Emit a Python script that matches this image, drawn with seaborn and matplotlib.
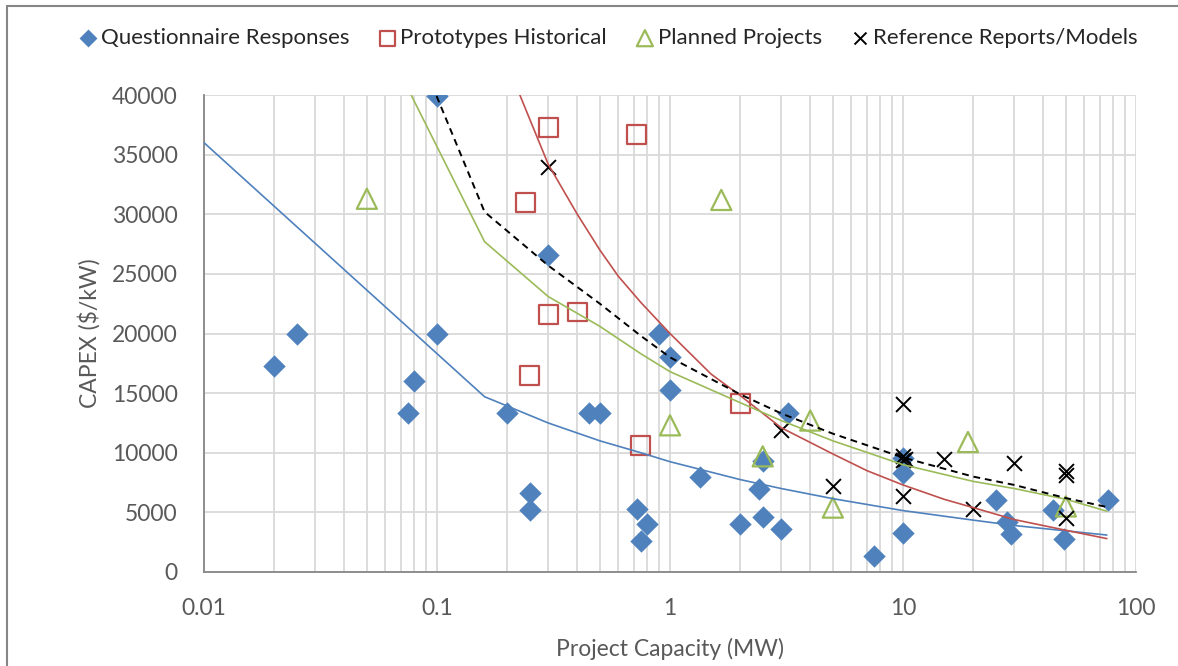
import matplotlib
matplotlib.use("Agg")
import matplotlib.pyplot as plt
from matplotlib.lines import Line2D
from matplotlib.ticker import LogLocator, FixedLocator, NullFormatter
import seaborn as sns
import pandas as pd

# ---- survey / literature data: capacity (MW) vs CAPEX ($/kW) ----
questionnaire_mw = [0.02, 0.025, 0.075, 0.08, 0.1, 0.1, 0.2, 0.25, 0.25, 0.3,
                    0.45, 0.5, 0.72, 0.75, 0.8, 0.9, 1.0, 1.0, 1.35, 2.0,
                    2.4, 2.5, 2.5, 3.0, 3.2, 7.5, 10, 10, 10, 25,
                    28, 29, 44, 49, 76]
questionnaire_capex = [17300, 20000, 13300, 16000, 39900, 20000, 13300, 6600, 5200, 26600,
                       13300, 13300, 5300, 2600, 4000, 20000, 18000, 15300, 8000, 4000,
                       7000, 9300, 4600, 3600, 13300, 1300, 9600, 8300, 3300, 6000,
                       4200, 3200, 5200, 2800, 6000]

prototypes_mw = [0.3, 0.72, 0.24, 0.3, 0.4, 0.25, 0.75, 2.0]
prototypes_capex = [37300, 36700, 31000, 21600, 21800, 16500, 10600, 14100]

planned_mw = [0.05, 1.66, 1.0, 2.5, 4.0, 5.0, 19, 50]
planned_capex = [31300, 31200, 12300, 9700, 12700, 5400, 10900, 5500]

reference_mw = [0.3, 3.0, 5.0, 10, 10, 10, 10.2, 10, 15, 20, 30, 50, 50, 50]
reference_capex = [34000, 11900, 7200, 14100, 9700, 9400, 9500, 6400, 9500, 5300, 9100, 8500, 8100, 4500]

# ---- trend curves ----
trend_mw = [0.01, 0.16, 0.3, 0.5, 0.75, 1, 2, 3, 5, 10, 20, 30, 50, 75]
trend_questionnaire = [36000, 14700, 12500, 11000, 10000, 9250, 7750, 7000, 6150, 5150, 4350, 3900, 3450, 3100]
trend_planned = [74700, 27700, 23100, 20600, 18300, 16800, 14200, 12700, 11000, 9000, 7600, 7000, 6100, 5100]
trend_reference = [87000, 30200, 25700, 22500, 19800, 18000, 14900, 13300, 11600, 9600, 8000, 7300, 6200, 5450]
trend_prototypes_mw = [0.16, 0.2, 0.3, 0.4, 0.5, 0.6, 0.75, 1, 1.5, 2, 3, 5, 7, 10, 15, 20, 30, 50, 75]
trend_prototypes = [49000, 42600, 34200, 30000, 27000, 24800, 22600, 20000, 16600, 14800, 12100,
                    9900, 8500, 7300, 6100, 5400, 4400, 3500, 2800]

labels = ["Questionnaire Responses", "Prototypes Historical",
          "Planned Projects", "Reference Reports/Models"]

BLUE = "#4F81BD"
RED = "#C0504D"
GREEN = "#9BBB59"
BLACK = "#000000"
GRID = "#D9D9D9"
AXIS = "#868686"
TEXT = "#595959"

sns.set_theme(style="white")
plt.rcParams["font.family"] = ["Lato", "DejaVu Sans"]

W, H = 1178, 666
fig = plt.figure(figsize=(W / 100, H / 100), dpi=100)
ax = fig.add_axes([204 / W, 1 - 572 / H, (1136 - 204) / W, (572 - 95) / H])

# scatter series
sns.scatterplot(x=questionnaire_mw, y=questionnaire_capex, marker="D", s=130,
                color=BLUE, edgecolor=BLUE, linewidth=0, ax=ax, label=labels[0], zorder=3)
sns.scatterplot(x=prototypes_mw, y=prototypes_capex, marker="s", s=185,
                color=RED, ax=ax, label=labels[1], zorder=3)
pc = ax.collections[-1]
pc.set_facecolor("none"); pc.set_edgecolor(RED); pc.set_linewidth(1.6)
sns.scatterplot(x=planned_mw, y=planned_capex, marker="^", s=210,
                color=GREEN, ax=ax, label=labels[2], zorder=3)
gc = ax.collections[-1]
gc.set_facecolor("none"); gc.set_edgecolor(GREEN); gc.set_linewidth(1.6)
sns.scatterplot(x=reference_mw, y=reference_capex, marker="x", s=115,
                color=BLACK, linewidth=1.4, ax=ax, label=labels[3], zorder=4)

# trend curves
trend_df = pd.DataFrame({"mw": trend_mw, "q": trend_questionnaire,
                         "pl": trend_planned, "ref": trend_reference})
sns.lineplot(data=trend_df, x="mw", y="q", color=BLUE, linewidth=1.2, ax=ax,
             legend=False, zorder=5, estimator=None, sort=False)
sns.lineplot(x=trend_prototypes_mw, y=trend_prototypes, color=RED, linewidth=1.2, ax=ax,
             legend=False, zorder=5, estimator=None, sort=False)
sns.lineplot(data=trend_df, x="mw", y="pl", color=GREEN, linewidth=1.2, ax=ax,
             legend=False, zorder=5, estimator=None, sort=False)
sns.lineplot(data=trend_df, x="mw", y="ref", color=BLACK, linewidth=1.4, ax=ax,
             legend=False, zorder=5, estimator=None, sort=False, linestyle=(0, (3.5, 2.5)))

# axes
ax.set_xscale("log")
ax.set_xlim(0.01, 100)
ax.set_ylim(0, 40000)
ax.set_yticks(range(0, 40001, 5000))
ax.xaxis.set_major_locator(FixedLocator([0.01, 0.1, 1, 10, 100]))
ax.set_xticklabels(["0.01", "0.1", "1", "10", "100"])
ax.xaxis.set_minor_locator(LogLocator(base=10, subs=range(2, 10)))
ax.xaxis.set_minor_formatter(NullFormatter())

ax.grid(True, which="major", axis="both", color=GRID, linewidth=1.3, zorder=0)
ax.grid(True, which="minor", axis="x", color=GRID, linewidth=1.3, zorder=0)
ax.set_axisbelow(True)

for side in ("top", "right"):
    ax.spines[side].set_visible(False)
for side in ("left", "bottom"):
    ax.spines[side].set_color(AXIS)
    ax.spines[side].set_linewidth(1.3)

ax.tick_params(axis="both", which="major", direction="out", length=7, width=1.2,
               color=AXIS, labelcolor=TEXT, labelsize=16.5, pad=12)
ax.tick_params(axis="x", which="minor", length=0)
ax.tick_params(axis="x", which="major", pad=12)

ax.set_xlabel("Project Capacity (MW)", fontsize=16.5, color=TEXT, labelpad=13)
ax.set_ylabel("CAPEX ($/kW)", fontsize=16.5, color=TEXT, labelpad=8)

# legend across the top
ax.get_legend().remove()
handles, hlabels = ax.get_legend_handles_labels()
fig.legend(handles, hlabels, loc="center", bbox_to_anchor=(0.5155, 1 - 38 / H),
           ncol=4, frameon=False, fontsize=16, handletextpad=0.1,
           columnspacing=1.2, markerscale=0.8, handlelength=1.0)

# outer chart frame
fig.add_artist(Line2D([7 / W, 1.0], [1 - 6 / H, 1 - 6 / H], transform=fig.transFigure,
                      color=AXIS, linewidth=1.5))
fig.add_artist(Line2D([7 / W, 7 / W], [0.0, 1 - 6 / H], transform=fig.transFigure,
                      color=AXIS, linewidth=1.5))

fig.savefig("out.png", dpi=100)
